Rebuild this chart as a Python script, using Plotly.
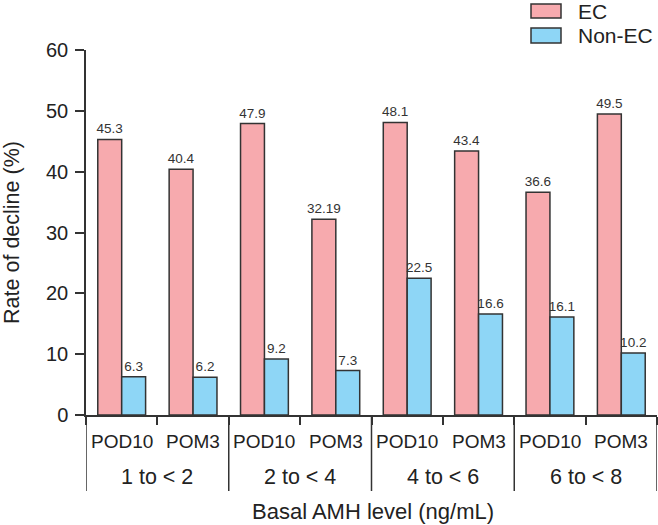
import plotly.graph_objects as go

groups = ["1 to < 2", "2 to < 4", "4 to < 6", "6 to < 8"]
methods = ["POD10", "POM3"]
ec_values = [45.3, 40.4, 47.9, 32.19, 48.1, 43.4, 36.6, 49.5]
ec_labels = ["45.3", "40.4", "47.9", "32.19", "48.1", "43.4", "36.6", "49.5"]
nonec_values = [6.3, 6.2, 9.2, 7.3, 22.5, 16.6, 16.1, 10.2]
nonec_labels = ["6.3", "6.2", "9.2", "7.3", "22.5", "16.6", "16.1", "10.2"]
y_ticks = [0, 10, 20, 30, 40, 50, 60]

x_cats = [f"{g} | {m}" for g in groups for m in methods]
x_inner = [m for _ in groups for m in methods]

EC_COLOR = "#F7AAAE"
NONEC_COLOR = "#8ED6F6"
LINE = "#333333"
TXT = "#222222"
FONT = "Arial, Liberation Sans, sans-serif"

# Pixel layout helpers (plot area: x 86..657, y 50..415)
L, R, T, B = 86, 1, 50, 110
W, H = 658, 525
PW, PH = W - L - R, H - T - B


def px_to_paper_x(px):
    return (px - L) / PW


def px_to_paper_y(py):
    return (T + PH - py) / PH


fig = go.Figure()
fig.add_trace(go.Bar(
    x=x_cats, y=ec_values, name="EC", text=ec_labels, textposition="outside",
    textfont=dict(size=13.5, color="#333333", family=FONT), constraintext="none",
    marker=dict(color=EC_COLOR, line=dict(color=LINE, width=1.5)),
    cliponaxis=False, showlegend=False,
))
fig.add_trace(go.Bar(
    x=x_cats, y=nonec_values, name="Non-EC", text=nonec_labels, textposition="outside",
    textfont=dict(size=13.5, color="#333333", family=FONT), constraintext="none",
    marker=dict(color=NONEC_COLOR, line=dict(color=LINE, width=1.5)),
    cliponaxis=False, showlegend=False,
))

fig.update_layout(
    width=W, height=H,
    margin=dict(l=L, r=R, t=T, b=B),
    paper_bgcolor="white", plot_bgcolor="white",
    barmode="group", bargap=0.33, bargroupgap=0,
    font=dict(family=FONT, size=19, color=TXT),
    xaxis=dict(
        type="category", categoryorder="array", categoryarray=x_cats,
        range=[-0.5, len(x_cats) - 0.5],
        showline=True, linecolor=LINE, linewidth=1.5,
        ticks="outside", tickson="boundaries", ticklen=8, tickcolor=LINE, tickwidth=1.5,
        showticklabels=False, showgrid=False,
    ),
    yaxis=dict(
        range=[0, 60], tickvals=y_ticks, showline=True, linecolor=LINE, linewidth=1.5,
        ticks="outside", ticklen=9, tickcolor=LINE, tickwidth=1.5, ticklabelstandoff=3,
        tickfont=dict(size=20, color=TXT), showgrid=False, zeroline=False,
        title=dict(text="Rate of decline (%)", font=dict(size=21.5), standoff=22),
    ),
)

# Inner category labels
for i, m in enumerate(x_inner):
    fig.add_annotation(xref="x", yref="paper", x=i, y=px_to_paper_y(441),
                       text=m, showarrow=False, xanchor="center", yanchor="middle",
                       font=dict(size=19, color=TXT))

# Outer group labels
for k, g in enumerate(groups):
    fig.add_annotation(xref="x", yref="paper", x=2 * k + 0.5, y=px_to_paper_y(477),
                       text=g, showarrow=False, xanchor="center", yanchor="middle",
                       font=dict(size=21.5, color=TXT))

# Group dividers
for k in range(len(groups) + 1):
    fig.add_shape(type="line", xref="x", yref="paper",
                  x0=2 * k - 0.5, x1=2 * k - 0.5,
                  y0=0, y1=px_to_paper_y(491),
                  line=dict(color=LINE, width=1.5))

# X axis title
fig.add_annotation(xref="paper", yref="paper", x=px_to_paper_x(373), y=px_to_paper_y(512),
                   text="Basal AMH level (ng/mL)", showarrow=False,
                   xanchor="center", yanchor="middle", font=dict(size=22, color=TXT))

# Legend drawn as swatches + labels
legend_items = [("EC", EC_COLOR, 4, 18), ("Non-EC", NONEC_COLOR, 28, 43)]
for name, color, y0, y1 in legend_items:
    fig.add_shape(type="rect", xref="paper", yref="paper",
                  x0=px_to_paper_x(531), x1=px_to_paper_x(561),
                  y0=px_to_paper_y(y1), y1=px_to_paper_y(y0),
                  fillcolor=color, line=dict(color=LINE, width=1.5))
    fig.add_annotation(xref="paper", yref="paper", x=px_to_paper_x(576),
                       y=px_to_paper_y((y0 + y1) / 2), text=name, showarrow=False,
                       xanchor="left", yanchor="middle", font=dict(size=21, color=TXT))

fig.write_html(
    "out.html",
    config={"displayModeBar": False},
    post_script="document.body.style.margin='0';document.body.style.overflow='hidden';",
)
